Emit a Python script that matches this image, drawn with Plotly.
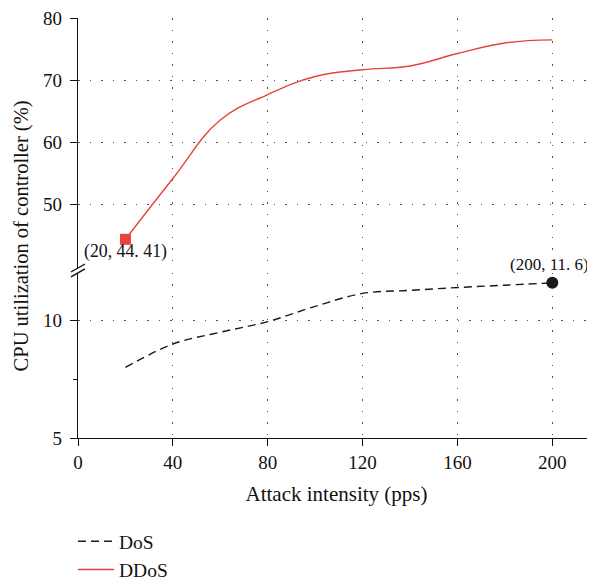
import plotly.graph_objects as go

# Data
x_vals = [20, 40, 60, 80, 100, 120, 140, 160, 180, 200]
dos = [8.0, 9.0, 9.5, 9.95, 10.6, 11.15, 11.28, 11.4, 11.5, 11.6]
ddos = [44.41, 54.2, 63.6, 67.7, 70.6, 71.7, 72.3, 74.3, 76.0, 76.5]
x_ticks = [0, 40, 80, 120, 160, 200]
y_low_ticks = [5, 10]
y_high_ticks = [50, 60, 70, 80]

RED = "#E8433A"
BLK = "#1a1a1a"
FONT = "Liberation Serif"

# page has an 8px body margin, so the figure is sized to fit the window
W, H = 587, 574

fig = go.Figure()
fig.add_trace(go.Scatter(x=x_vals, y=dos, mode="lines", name="DoS", yaxis="y", legendgroup="a",
                         line=dict(color=BLK, width=1.4, dash="8px,5px", shape="spline", smoothing=1.0)))
fig.add_trace(go.Scatter(x=x_vals, y=ddos, mode="lines", name="DDoS", yaxis="y2", legendgroup="b",
                         line=dict(color=RED, width=1.4, shape="spline", smoothing=1.2)))
fig.add_trace(go.Scatter(x=[x_vals[0]], y=[ddos[0]], mode="markers", yaxis="y2", showlegend=False,
                         marker=dict(symbol="square", size=11, color=RED)))
fig.add_trace(go.Scatter(x=[x_vals[-1]], y=[dos[-1]], mode="markers", yaxis="y", showlegend=False,
                         marker=dict(symbol="circle", size=12, color=BLK)))

grid = dict(showgrid=True, gridcolor="#555", gridwidth=1.2, griddash="1.5px,10px")
low_top = 0.3929
high_bot = 0.4048
tickfont = dict(family=FONT, size=19, color="#111")
common_y = dict(showline=True, linecolor="#111", linewidth=1.4, ticks="outside", ticklen=7,
                tickwidth=1.4, tickcolor="#111", zeroline=False, anchor="x", automargin=False,
                tickfont=tickfont, ticklabelstandoff=4, ticklabeloverflow="allow")

fig.update_layout(
    width=W, height=H,
    margin=dict(l=70, r=0, t=10, b=144, autoexpand=False),
    paper_bgcolor="white", plot_bgcolor="white",
    font=dict(family=FONT, size=18, color="#111"),
    xaxis=dict(range=[0, 218], tickvals=x_ticks, showline=True, linecolor="#111", linewidth=1.4,
               ticks="outside", ticklen=7, tickwidth=1.4, tickcolor="#111", zeroline=False,
               anchor="y", automargin=False, tickfont=tickfont,
               title=dict(text="Attack intensity (pps)", standoff=14, font=dict(size=21)), **grid),
    yaxis=dict(domain=[0, low_top], range=[5, 12.02], tickvals=y_low_ticks,
               minor=dict(tickvals=[7.5], ticks="outside", ticklen=4, tickwidth=1.4,
                          tickcolor="#111", showgrid=False),
               **common_y, **grid),
    yaxis2=dict(domain=[high_bot, 1], range=[39.8, 80.02], tickvals=y_high_ticks, **common_y, **grid),
    legend=dict(xref="container", yref="container", x=65 / W, y=(H - 514) / H,
                xanchor="left", yanchor="top", bgcolor="rgba(0,0,0,0)",
                font=dict(size=19.5), tracegroupgap=0, itemwidth=36),
    showlegend=True,
)

fig.add_annotation(text="CPU utilization of controller (%)", xref="paper", yref="paper",
                   x=-57 / 517, y=0.48, textangle=-90, showarrow=False, font=dict(size=20.5),
                   xanchor="center", yanchor="middle")
fig.add_annotation(text="(20, 44. 41)", x=x_vals[0], y=ddos[0], xref="x", yref="y2",
                   showarrow=False, yshift=-12, font=dict(size=17.8))
fig.add_annotation(text="(200, 11. 6)", x=x_vals[-1], y=dos[-1], xref="x", yref="y",
                   showarrow=False, yshift=18, xshift=-3, font=dict(size=17))

# axis break marks
for anchor in [high_bot, low_top]:
    fig.add_shape(type="line", xref="paper", yref="paper", xsizemode="pixel", ysizemode="pixel",
                  xanchor=0, yanchor=anchor, x0=-7, x1=7, y0=-4, y1=4,
                  line=dict(color="#111", width=1.4))

fig.write_html("out.html")
